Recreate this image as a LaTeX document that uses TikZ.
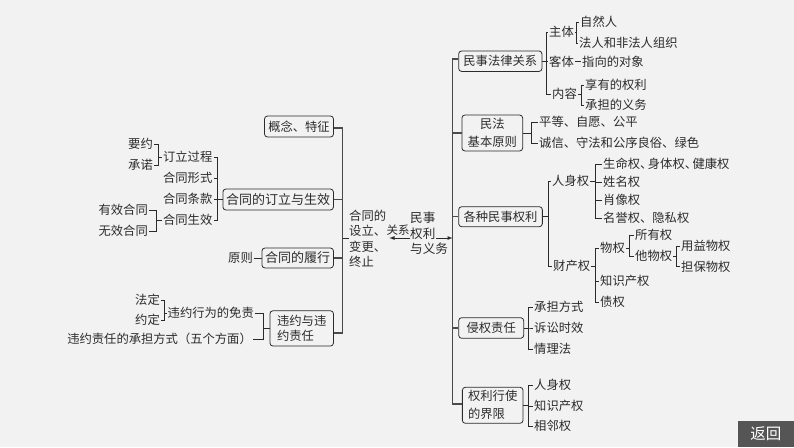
\documentclass[tikz,border=0pt]{standalone}
\usepackage{fontspec}
\setmainfont{Noto Sans CJK SC}
\usetikzlibrary{positioning}
\definecolor{bgc}{HTML}{F2F2F2}
\definecolor{inkc}{HTML}{2B2B2B}
\definecolor{btnc}{HTML}{555555}
\begin{document}
\begin{tikzpicture}[x=1pt,y=-1pt]
  \tikzset{ box/.style={draw=inkc,rounded corners=3pt,line width=0.8pt,text=inkc,inner sep=0pt,font=\fontsize{12.3}{15}\selectfont,align=left},
    tx/.style={text=inkc,inner ysep=0pt,inner xsep=1pt,font=\fontsize{12.3}{15}\selectfont,align=left},
    ln/.style={draw=inkc,line width=0.8pt},
    mainln/.style={draw=inkc!85!white,line width=1.1pt},
  }
  \fill[bgc] (0,0) rectangle (794,447);
  \useasboundingbox (0,0) rectangle (794,447);

  % the boxes left of the middle
  \node[box,minimum width=69pt,minimum height=21pt] (gn) at (299,126.5) {概念、特征};
  \node[box,minimum width=110.5pt,minimum height=21pt,font=\fontsize{13}{15}\selectfont] (ly) at (278.2,199.5) {合同的订立与生效};
  \node[box,minimum width=71.5pt,minimum height=20pt,font=\fontsize{13}{15}\selectfont] (lx) at (297.7,258) {合同的履行};
  \node[box,minimum width=63.5pt,minimum height=35.3pt] (wy) at (301.7,328.4) {违约与违\\约责任};

  % the boxes right of the middle
  \node[box,minimum width=83.3pt,minimum height=20.5pt] (ms) at (500.3,61.2) {民事法律关系};
  \node[box,minimum width=60.7pt,minimum height=36pt,align=center] (mf) at (492.3,133) {民法\\[3pt]基本原则};
  \node[box,minimum width=83.7pt,minimum height=20pt] (gz) at (500.5,216.7) {各种民事权利};
  \node[box,minimum width=65pt,minimum height=20.6pt] (qq) at (491.2,328) {侵权责任};
  \node[box,minimum width=60.7pt,minimum height=36pt] (ql) at (492.7,405.3) {权利行使\\[3pt]的界限};

  % the middle
  \node[tx,anchor=west,inner xsep=0pt,font=\fontsize{12.3}{15.5}\selectfont] (ht) at (349,239) {合同的\\设立、\\变更、\\终止};
  \node[tx,anchor=west,inner xsep=0pt,font=\fontsize{12.6}{15.5}\selectfont] (qy) at (410,233.5) {民事\\权利\\与义务};
  \node[tx,inner xsep=0pt,font=\fontsize{11.5}{15}\selectfont] (gx) at (398,230) {关系};
  \coordinate (qyr) at (436,238);
  \coordinate (spl) at (342.5,238);
  \coordinate (spr) at (452.7,238);

  % texts, left side
  \foreach \n/\x/\y/\t in {dl/213.5/157/订立过程,dx/213.5/178/合同形式,dk/213.5/199/合同条款,ds/213.5/220/合同生效,
    yy/154/144/要约,cn/154/165/承诺,yx/149/210/有效合同,wx/149/231/无效合同,yz/254/258/原则,
    mz/255/313/违约行为的免责,cd/253/339/违约责任的承担方式（五个方面）,fd/161/300/法定,yd/161/320/约定}
    \node[tx,anchor=east] (\n) at (\x,\y) {\t};

  % texts, right side
  \foreach \n/\x/\y/\t in {zt/548/32/主体,kt/548/61.7/客体,nr/551/94/内容,zr/579/22/自然人,fr/578/43/法人和非法人组织,
    zx/581/61.7/指向的对象,xy/584/85/享有的权利,cy/584/105/承担的义务,pd/538/122/平等、自愿、公平,cx/538/143/诚信、守法和公序良俗、绿色,
    rs/551/181/人身权,cc/552/266/财产权,sm/602/164/生命权、\kern-4.5pt身体权、\kern-4.5pt健康权,xm/602/182/姓名权,xx/602/200/肖像权,my/602/218/名誉权、隐私权,
    wq/599/248/物权,zc/599/281/知识产权,zq/599/302/债权,sy/634/235/所有权,tw/634/256/他物权,yw/680/246/用益物权,db/680/266.5/担保物权,
    cd2/533/307/承担方式,ss/533/328/诉讼时效,ql2/533/349/情理法,rs2/533/385/人身权,zc2/533/406/知识产权,xl2/533/426/相邻权}
    \node[tx,anchor=west] (\n) at (\x,\y) {\t};

  % the connection between the texts
  \foreach \p/\x/\kids in {zt/576.3/{zr,fr},nr/581.7/{xy,cy},ms/546.7/{zt,kt,nr},mf/531/{pd,cx},gz/548.3/{rs,cc},
    rs/595.3/{sm,xm,xx,my},cc/595.3/{wq,zc,zq},wq/629.3/{sy,tw},tw/676.7/{yw,db},qq/528.3/{cd2,ss,ql2},ql/528.3/{rs2,zc2,xl2}}
    \foreach \k in \kids
      \draw[ln] (\p.east) -- (\p.east -| \x,0) -- (\k.west -| \x,0) -- (\k.west);
  \draw[ln] (kt.east) -- (zx.west);

  \foreach \p/\x/\kids in {ly/217.3/{dl,dx,dk,ds},dl/158.3/{yy,cn},ds/156.7/{yx,wx},wy/263.3/{mz,cd},mz/164.3/{fd,yd}}
    \foreach \k in \kids
      \draw[ln] (\p.west) -- (\p.west -| \x,0) -- (\k.east -| \x,0) -- (\k.east);
  \draw[ln] (lx.west) -- (yz.east);

  % the two long lines in the middle
  \draw[mainln] (gn.east |- 0,128) -| (spl) ;
  \draw[mainln] (spl) |- (wy.east |- 0,333);
  \draw[mainln] (ly.east) -- (ly.east -| spl);
  \draw[mainln] (lx.east) -- (lx.east -| spl);
  \draw[ln] (spl) -- (ht.west |- spl);

  \draw[mainln] (ms.west |- 0,59) -| (spr);
  \draw[mainln] (spr) |- (ql.west |- 0,404);
  \foreach \b in {mf,gz,qq}
    \draw[mainln] (\b.west) -- (\b.west -| spr);

  \draw[-latex,ln,shorten >=3pt] (qy.west |- spl) -- (ht.east |- spl);
  \draw[-latex,ln] (qyr) -- (spr);

  % the button
  \node[fill=btnc,text=white,minimum width=56.3pt,minimum height=26.3pt,inner sep=0pt,font=\fontsize{15.5}{16}\selectfont] (fh) at (765.85,433.85) {返回};
\end{tikzpicture}
\end{document}
